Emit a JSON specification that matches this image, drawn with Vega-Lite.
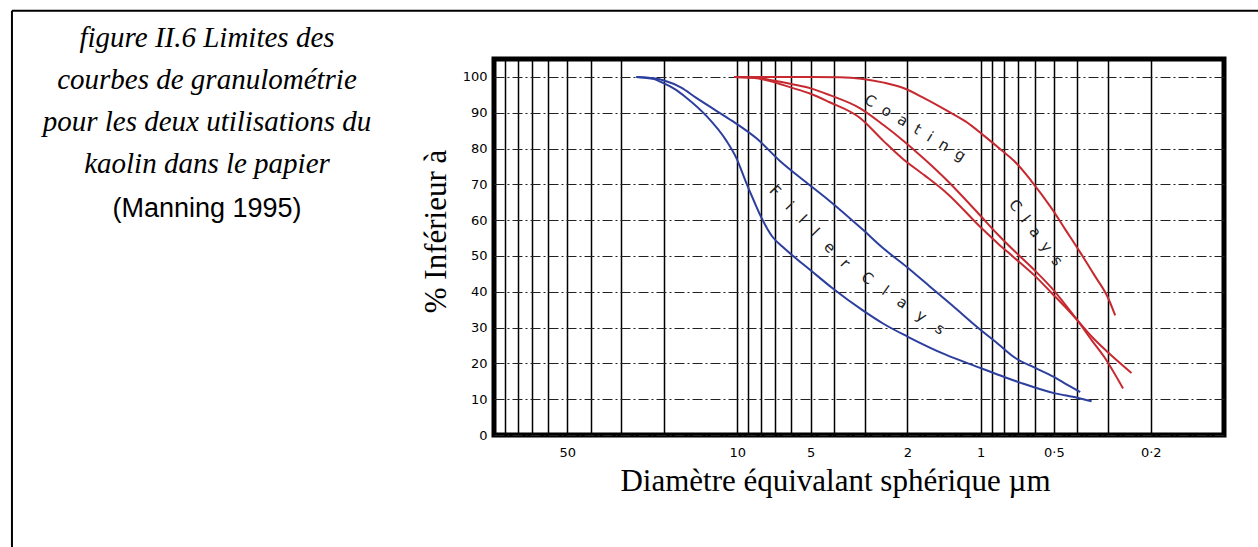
{
  "$schema": "https://vega.github.io/schema/vega-lite/v6.json",
  "width": 730,
  "height": 376,
  "autosize": {"type": "none"},
  "padding": {"left": 494, "top": 59, "right": 34, "bottom": 112},
  "background": "white",
  "title": {
    "text": ["figure II.6 Limites des", "courbes de granulométrie", "pour les deux utilisations du", "kaolin dans le papier"],
    "subtitle": "(Manning 1995)",
    "anchor": "start",
    "frame": "group",
    "align": "center",
    "dx": -287,
    "dy": 212,
    "offset": 0,
    "font": "Liberation Serif",
    "fontStyle": "italic",
    "fontWeight": "normal",
    "fontSize": 29,
    "lineHeight": 42,
    "color": "black",
    "subtitleFont": "Liberation Sans",
    "subtitleFontSize": 27,
    "subtitleColor": "black",
    "subtitlePadding": 17,
    "subtitleLineHeight": 30
  },
  "config": {"view": {"stroke": "black", "strokeWidth": 5}},
  "encoding": {
    "x": {
      "field": "d", "type": "quantitative",
      "scale": {"type": "log", "domain": [0.1, 100], "reverse": true, "nice": false},
      "axis": {
        "values": [90,80,70,60,50,40,30,20,10,9,8,7,6,5,4,3,2,1,0.9,0.8,0.7,0.6,0.5,0.4,0.3,0.2],
        "format": "~g",
        "labelExpr": "indexof([50,10,5,2,1,0.5,0.2], datum.value) >= 0 ? replace(datum.label, '.', '·') : ''",
        "grid": true, "gridColor": "black", "gridWidth": 1.5, "gridOpacity": 1,
        "ticks": false, "domain": false,
        "labelPadding": 11, "labelFont": "DejaVu Sans", "labelFontSize": 13, "labelColor": "black",
        "labelOverlap": false, "labelFlush": false,
        "title": "Diamètre équivalant sphérique µm",
        "titleFont": "Liberation Serif", "titleFontSize": 31, "titleFontWeight": "normal", "titleColor": "black",
        "titlePadding": 7, "titleX": 341
      }
    },
    "y": {
      "field": "pct", "type": "quantitative",
      "scale": {"domain": [0, 105], "nice": false, "zero": true},
      "axis": {
        "values": [0,10,20,30,40,50,60,70,80,90,100],
        "tickCount": 11,
        "grid": true, "gridColor": "#222", "gridWidth": 1.2, "gridDash": [10,3,2,3], "gridOpacity": 1,
        "ticks": false, "domain": false,
        "labelPadding": 7, "labelFont": "DejaVu Sans", "labelFontSize": 13, "labelColor": "black",
        "labelOverlap": false, "labelFlush": false,
        "title": "% Inférieur à",
        "titleFont": "Liberation Serif", "titleFontSize": 31, "titleFontWeight": "normal", "titleColor": "black",
        "titlePadding": 10, "titleY": 172
      }
    }
  },
  "layer": [
    {
      "data": {"values": [
        {"series":"C1","group":"Coating","d":10.3,"pct":100},{"series":"C1","group":"Coating","d":7,"pct":100},{"series":"C1","group":"Coating","d":5,"pct":100},{"series":"C1","group":"Coating","d":3.8,"pct":99.9},{"series":"C1","group":"Coating","d":3.1,"pct":99.5},{"series":"C1","group":"Coating","d":2.5,"pct":98.4},{"series":"C1","group":"Coating","d":2.08,"pct":96.9},{"series":"C1","group":"Coating","d":1.7,"pct":94},{"series":"C1","group":"Coating","d":1.37,"pct":90.5},{"series":"C1","group":"Coating","d":1.15,"pct":87.5},{"series":"C1","group":"Coating","d":0.97,"pct":83.6},{"series":"C1","group":"Coating","d":0.82,"pct":79.5},{"series":"C1","group":"Coating","d":0.73,"pct":76.6},{"series":"C1","group":"Coating","d":0.62,"pct":71},{"series":"C1","group":"Coating","d":0.51,"pct":63.2},{"series":"C1","group":"Coating","d":0.45,"pct":57.5},{"series":"C1","group":"Coating","d":0.39,"pct":51},{"series":"C1","group":"Coating","d":0.34,"pct":44.5},{"series":"C1","group":"Coating","d":0.30,"pct":38.4},{"series":"C1","group":"Coating","d":0.28,"pct":33.4},
        {"series":"C2","group":"Coating","d":10.3,"pct":100},{"series":"C2","group":"Coating","d":8.5,"pct":99.8},{"series":"C2","group":"Coating","d":7.5,"pct":99.3},{"series":"C2","group":"Coating","d":6,"pct":98},{"series":"C2","group":"Coating","d":5,"pct":96.8},{"series":"C2","group":"Coating","d":4.2,"pct":95},{"series":"C2","group":"Coating","d":3.14,"pct":91.3},{"series":"C2","group":"Coating","d":2.5,"pct":86.5},{"series":"C2","group":"Coating","d":2.08,"pct":82.2},{"series":"C2","group":"Coating","d":1.7,"pct":77},{"series":"C2","group":"Coating","d":1.37,"pct":71},{"series":"C2","group":"Coating","d":1.02,"pct":61.8},{"series":"C2","group":"Coating","d":0.85,"pct":56},{"series":"C2","group":"Coating","d":0.73,"pct":51.5},{"series":"C2","group":"Coating","d":0.6,"pct":46},{"series":"C2","group":"Coating","d":0.51,"pct":41},{"series":"C2","group":"Coating","d":0.45,"pct":36.5},{"series":"C2","group":"Coating","d":0.40,"pct":32},{"series":"C2","group":"Coating","d":0.35,"pct":26.5},{"series":"C2","group":"Coating","d":0.31,"pct":21.7},{"series":"C2","group":"Coating","d":0.26,"pct":13},
        {"series":"C3","group":"Coating","d":10.3,"pct":100},{"series":"C3","group":"Coating","d":8.5,"pct":99.7},{"series":"C3","group":"Coating","d":7.5,"pct":99},{"series":"C3","group":"Coating","d":6,"pct":97},{"series":"C3","group":"Coating","d":5,"pct":95.3},{"series":"C3","group":"Coating","d":4.2,"pct":93},{"series":"C3","group":"Coating","d":3.14,"pct":88.6},{"series":"C3","group":"Coating","d":2.5,"pct":82},{"series":"C3","group":"Coating","d":2.08,"pct":77},{"series":"C3","group":"Coating","d":1.7,"pct":72.5},{"series":"C3","group":"Coating","d":1.37,"pct":67.4},{"series":"C3","group":"Coating","d":1.0,"pct":58},{"series":"C3","group":"Coating","d":0.85,"pct":53.5},{"series":"C3","group":"Coating","d":0.73,"pct":49.6},{"series":"C3","group":"Coating","d":0.6,"pct":44.5},{"series":"C3","group":"Coating","d":0.51,"pct":39.6},{"series":"C3","group":"Coating","d":0.45,"pct":35.8},{"series":"C3","group":"Coating","d":0.40,"pct":32},{"series":"C3","group":"Coating","d":0.35,"pct":27.5},{"series":"C3","group":"Coating","d":0.30,"pct":23.1},{"series":"C3","group":"Coating","d":0.24,"pct":17.3},
        {"series":"F1","group":"Filler","d":26,"pct":100},{"series":"F1","group":"Filler","d":22,"pct":99.6},{"series":"F1","group":"Filler","d":20,"pct":99},{"series":"F1","group":"Filler","d":17,"pct":97},{"series":"F1","group":"Filler","d":14.8,"pct":94.2},{"series":"F1","group":"Filler","d":12.5,"pct":91},{"series":"F1","group":"Filler","d":10.5,"pct":87.7},{"series":"F1","group":"Filler","d":8.3,"pct":82.7},{"series":"F1","group":"Filler","d":6.7,"pct":76.6},{"series":"F1","group":"Filler","d":5.2,"pct":70.5},{"series":"F1","group":"Filler","d":4.2,"pct":65.5},{"series":"F1","group":"Filler","d":3.07,"pct":57.5},{"series":"F1","group":"Filler","d":2.5,"pct":52},{"series":"F1","group":"Filler","d":2.0,"pct":46.8},{"series":"F1","group":"Filler","d":1.6,"pct":41.2},{"series":"F1","group":"Filler","d":1.3,"pct":36},{"series":"F1","group":"Filler","d":1.02,"pct":29.8},{"series":"F1","group":"Filler","d":0.85,"pct":25.5},{"series":"F1","group":"Filler","d":0.72,"pct":21.5},{"series":"F1","group":"Filler","d":0.6,"pct":18.8},{"series":"F1","group":"Filler","d":0.5,"pct":16.2},{"series":"F1","group":"Filler","d":0.44,"pct":14},{"series":"F1","group":"Filler","d":0.39,"pct":12},
        {"series":"F2","group":"Filler","d":26,"pct":100},{"series":"F2","group":"Filler","d":22,"pct":99.4},{"series":"F2","group":"Filler","d":20.5,"pct":98.5},{"series":"F2","group":"Filler","d":18,"pct":96.5},{"series":"F2","group":"Filler","d":16.2,"pct":94.2},{"series":"F2","group":"Filler","d":13.4,"pct":89.1},{"series":"F2","group":"Filler","d":11.1,"pct":82.2},{"series":"F2","group":"Filler","d":10.1,"pct":77.4},{"series":"F2","group":"Filler","d":9.2,"pct":70.5},{"series":"F2","group":"Filler","d":8.5,"pct":65},{"series":"F2","group":"Filler","d":8.0,"pct":61},{"series":"F2","group":"Filler","d":7.2,"pct":55.5},{"series":"F2","group":"Filler","d":6.5,"pct":52.5},{"series":"F2","group":"Filler","d":5.9,"pct":50},{"series":"F2","group":"Filler","d":5.0,"pct":46},{"series":"F2","group":"Filler","d":4.1,"pct":41.2},{"series":"F2","group":"Filler","d":3.05,"pct":34.8},{"series":"F2","group":"Filler","d":2.5,"pct":31},{"series":"F2","group":"Filler","d":2.0,"pct":27.5},{"series":"F2","group":"Filler","d":1.4,"pct":22.5},{"series":"F2","group":"Filler","d":1.0,"pct":18.7},{"series":"F2","group":"Filler","d":0.8,"pct":16.2},{"series":"F2","group":"Filler","d":0.68,"pct":14.5},{"series":"F2","group":"Filler","d":0.5,"pct":11.7},{"series":"F2","group":"Filler","d":0.4,"pct":10.4},{"series":"F2","group":"Filler","d":0.35,"pct":9.4}
      ]},
      "mark": {"type": "line", "interpolate": "monotone", "strokeWidth": 2},
      "encoding": {
        "color": {"field": "group", "type": "nominal", "scale": {"domain": ["Coating", "Filler"], "range": ["#c62a30", "#2d3f9e"]}, "legend": null},
        "detail": {"field": "series"},
        "order": {"field": "d", "sort": "descending"}
      }
    },
    {
      "data": {"values": [{"d": 1.86, "pct": 85.8, "label": "C\u00a0\u00a0o\u00a0\u00a0a\u00a0\u00a0t\u00a0\u00a0i\u00a0\u00a0n\u00a0\u00a0g"}]},
      "mark": {"type": "text", "angle": 31, "font": "DejaVu Sans", "fontSize": 15, "color": "#222"},
      "encoding": {"text": {"field": "label"}}
    },
    {
      "data": {"values": [{"d": 0.593, "pct": 56.5, "label": "C\u00a0\u00a0l\u00a0\u00a0a\u00a0\u00a0y\u00a0\u00a0s"}]},
      "mark": {"type": "text", "angle": 53, "font": "DejaVu Sans", "fontSize": 15, "color": "#222"},
      "encoding": {"text": {"field": "label"}}
    },
    {
      "data": {"values": [{"d": 5.04, "pct": 58.2, "label": "F\u00a0\u00a0\u00a0i\u00a0\u00a0\u00a0l\u00a0\u00a0\u00a0l\u00a0\u00a0\u00a0e\u00a0\u00a0\u00a0r"}]},
      "mark": {"type": "text", "angle": 46, "font": "DejaVu Sans", "fontSize": 15, "color": "#222"},
      "encoding": {"text": {"field": "label"}}
    },
    {
      "data": {"values": [{"d": 2.08, "pct": 36.8, "label": "C\u00a0\u00a0\u00a0l\u00a0\u00a0\u00a0a\u00a0\u00a0\u00a0y\u00a0\u00a0\u00a0s"}]},
      "mark": {"type": "text", "angle": 35, "font": "DejaVu Sans", "fontSize": 15, "color": "#222"},
      "encoding": {"text": {"field": "label"}}
    },
    {
      "data": {"values": [{"d": 9572, "d2": 9572, "pct": 118.5, "pct2": -40}, {"d": 9572, "d2": 0.05, "pct": 118.5, "pct2": 118.5}]},
      "mark": {"type": "rule", "color": "black", "strokeWidth": 2, "clip": false},
      "encoding": {
        "x2": {"field": "d2"},
        "y2": {"field": "pct2"}
      }
    }
  ]
}
